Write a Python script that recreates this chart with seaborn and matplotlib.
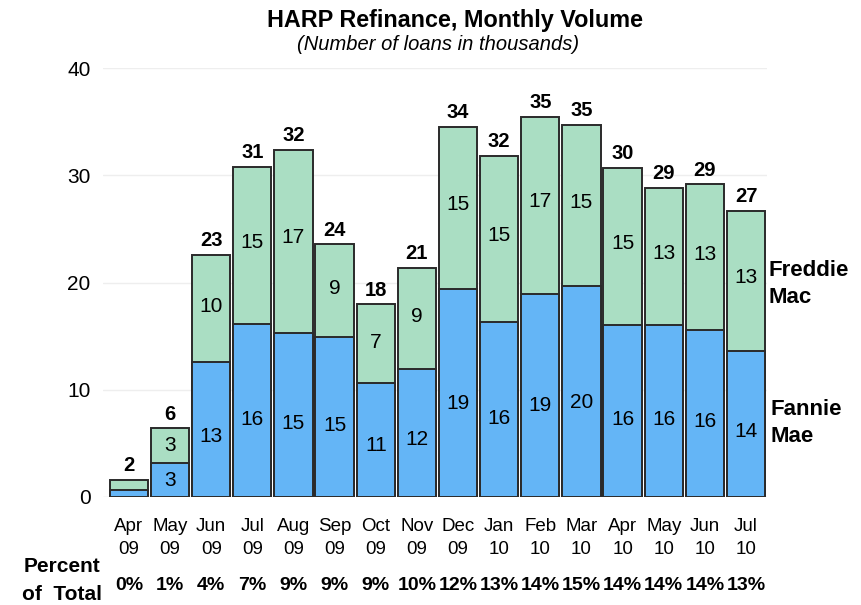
import numpy as np
import pandas as pd
import matplotlib
matplotlib.use('Agg')
import matplotlib.pyplot as plt
import seaborn as sns

# ─────────────────────────────────────────
# Data (thousands of loans)
# ─────────────────────────────────────────
months = ['Apr\n09', 'May\n09', 'Jun\n09', 'Jul\n09', 'Aug\n09', 'Sep\n09', 'Oct\n09', 'Nov\n09',
          'Dec\n09', 'Jan\n10', 'Feb\n10', 'Mar\n10', 'Apr\n10', 'May\n10', 'Jun\n10', 'Jul\n10']
fannie = [0.65, 3.15, 12.55, 16.1, 15.3, 14.9, 10.6, 11.9,
          19.4, 16.3, 18.9, 19.65, 16.0, 16.0, 15.6, 13.65]
freddie = [0.95, 3.25, 10.05, 14.7, 17.1, 8.65, 7.35, 9.45,
           15.1, 15.5, 16.55, 15.05, 14.65, 12.85, 13.55, 13.05]
fannie_lbl = ['', '3', '13', '16', '15', '15', '11', '12', '19', '16', '19', '20', '16', '16', '16', '14']
freddie_lbl = ['', '3', '10', '15', '17', '9', '7', '9', '15', '15', '17', '15', '15', '13', '13', '13']
total_lbl = ['2', '6', '23', '31', '32', '24', '18', '21', '34', '32', '35', '35', '30', '29', '29', '27']
pct_total = ['0%', '1%', '4%', '7%', '9%', '9%', '9%', '10%', '12%', '13%', '14%', '15%', '14%', '14%', '14%', '13%']

df = pd.DataFrame({'month': months, 'fannie': fannie, 'freddie': freddie})
df['total'] = df['fannie'] + df['freddie']

sns.set_style('white')
plt.rcParams['font.family'] = ['Liberation Sans', 'DejaVu Sans']
plt.rcParams['text.color'] = 'black'
plt.rcParams['xtick.color'] = 'black'
plt.rcParams['ytick.color'] = 'black'

BLUE = '#64b5f6'
GREEN = '#aadec3'
EDGE = '#2a2a2a'

fig = plt.figure(figsize=(8.61, 6.05), dpi=100)
ax = fig.add_axes([103 / 861, (605 - 497) / 605, 664 / 861, 429 / 605])

# green = total (Freddie on top), blue = Fannie drawn over it
sns.barplot(data=df, x='month', y='total', color=GREEN, width=0.93,
            edgecolor=EDGE, linewidth=1.4, saturation=1, ax=ax)
sns.barplot(data=df, x='month', y='fannie', color=BLUE, width=0.93,
            edgecolor=EDGE, linewidth=1.4, saturation=1, ax=ax)

ax.set_xlim(-0.63, 15.51)
ax.set_ylim(0, 40)
ax.set_yticks([0, 10, 20, 30, 40])
ax.set_xlabel('')
ax.set_ylabel('')
for s in ax.spines.values():
    s.set_visible(False)
for yv in [10, 20, 30, 40]:
    ax.axhline(yv, color='#eeeeee', lw=1, zorder=0)
ax.axhline(0, color='#dddddd', lw=1, zorder=0)
ax.set_axisbelow(True)

ax.tick_params(axis='y', length=0, labelsize=15, pad=9)
ax.tick_params(axis='x', length=0, pad=15)
ax.set_xticks(range(len(months)))
ax.set_xticklabels(months, fontsize=13.5, linespacing=1.45)

# labels inside and on top of the bars
for i in range(len(months)):
    f, r, t = fannie[i], freddie[i], fannie[i] + freddie[i]
    if fannie_lbl[i]:
        ax.text(i, f * 0.45 if f > 5 else f / 2, fannie_lbl[i], ha='center', va='center', fontsize=15)
    if freddie_lbl[i]:
        ax.text(i, f + r * 0.52 if r > 5 else f + r / 2, freddie_lbl[i], ha='center', va='center', fontsize=15)
    ax.text(i, t + 0.45, total_lbl[i], ha='center', va='bottom', fontsize=14.5, fontweight='bold')

# percent of total row
tr = ax.get_xaxis_transform()
for i, p in enumerate(pct_total):
    ax.text(i, (497 - 586) / 429, p, transform=tr, ha='center', va='center', fontsize=14,
            fontweight='bold', clip_on=False)
fig.text(62 / 861, 1 - 567 / 605, 'Percent', ha='center', va='center', fontsize=15,
         fontweight='bold')
fig.text(62 / 861, 1 - 594 / 605, 'of  Total', ha='center', va='center', fontsize=15,
         fontweight='bold')

# series names on the right
fig.text(769 / 861, 1 - 284 / 605, 'Freddie\nMac', ha='left', va='center', fontsize=16,
         fontweight='bold', linespacing=1.35)
fig.text(771 / 861, 1 - 423 / 605, 'Fannie\nMae', ha='left', va='center', fontsize=16,
         fontweight='bold', linespacing=1.35)

fig.text(455 / 861, 1 - 20 / 605, 'HARP Refinance, Monthly Volume', ha='center', va='center',
         fontsize=16.8, fontweight='bold')
fig.text(438 / 861, 1 - 44 / 605, '(Number of loans in thousands)', ha='center', va='center',
         fontsize=14.5, style='italic')

fig.savefig('out.png', dpi=100)
